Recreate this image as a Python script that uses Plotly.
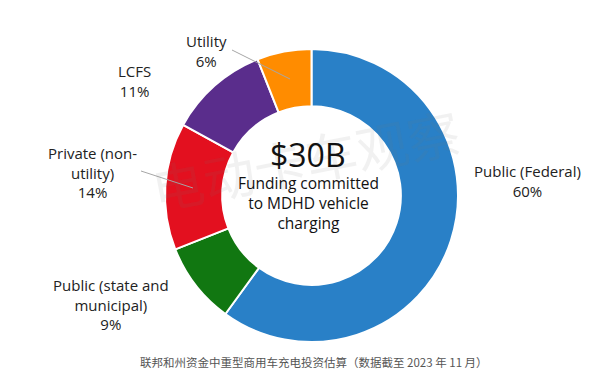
import plotly.graph_objects as go

categories = ["Public (Federal)", "Public (state and municipal)", "Private (non-utility)", "LCFS", "Utility"]
shares = [60, 9, 14, 11, 6]
colors = ["#2980C7", "#117711", "#E3101F", "#5A2D8C", "#FF8C00"]
label_texts = ["Public (Federal)<br>60%", "Public (state and<br>municipal)<br>9%",
               "Private (non-<br>utility)<br>14%", "LCFS<br>11%", "Utility<br>6%"]
total_label = "$30B"
center_text = "Funding committed<br>to MDHD vehicle<br>charging"
caption = "联邦和州资金中重型商用车充电投资估算（数据截至 2023 年 11 月）"

W, H = 600, 379
cx, cy, r = 303.5, 187.5, 146.5

fig = go.Figure(go.Pie(
    labels=categories, values=shares, sort=False, direction="clockwise", rotation=0,
    hole=0.61, marker=dict(colors=colors, line=dict(color="white", width=2)),
    textinfo="none", hoverinfo="label+percent", showlegend=False,
    domain=dict(x=[(cx - r) / W, (cx + r) / W], y=[(H - cy - r) / H, (H - cy + r) / H]),
))

font = dict(family="Open Sans, Lato, sans-serif", size=15, color="#222222")
label_pos = [(519, 173), (103, 296), (84, 164), (126, 73), (198, 43)]
anns = []
for t, (x, y) in zip(label_texts, label_pos):
    anns.append(dict(text=t, x=x / W, y=1 - y / H, xref="paper", yref="paper",
                     showarrow=False, font=font, align="center", xanchor="center", yanchor="middle"))
anns.append(dict(text="电动卡车观察", x=297 / W, y=1 - 150 / H, xref="paper", yref="paper", showarrow=False,
                 textangle=-11, font=dict(family="Noto Sans CJK SC, sans-serif", size=52,
                                          color="rgba(120,120,120,0.10)"),
                 xanchor="center", yanchor="middle"))
anns.append(dict(text=total_label, x=300 / W, y=1 - 146 / H, xref="paper", yref="paper", showarrow=False,
                 font=dict(family="Open Sans, sans-serif", size=32, color="#111111"),
                 xanchor="center", yanchor="middle"))
anns.append(dict(text=center_text, x=300 / W, y=1 - 195 / H, xref="paper", yref="paper", showarrow=False,
                 font=dict(family="Open Sans, sans-serif", size=15.5, color="#111111"),
                 xanchor="center", yanchor="middle", align="center"))
anns.append(dict(text=caption, x=306 / W, y=1 - 354 / H, xref="paper", yref="paper", showarrow=False,
                 font=dict(family="Noto Sans CJK SC, sans-serif", size=11.5, color="#555555"),
                 xanchor="center", yanchor="middle"))

shapes = [
    dict(type="line", xref="paper", yref="paper", x0=224 / W, y0=1 - 42 / H, x1=282 / W, y1=1 - 71 / H,
         line=dict(color="#A6A6A6", width=1)),
    dict(type="line", xref="paper", yref="paper", x0=133 / W, y0=1 - 163 / H, x1=185 / W, y1=1 - 180 / H,
         line=dict(color="#A6A6A6", width=1)),
]

fig.update_layout(width=W, height=H, margin=dict(l=0, r=0, t=0, b=0),
                  paper_bgcolor="white", plot_bgcolor="white",
                  annotations=anns, shapes=shapes)
fig.write_html("out.html")
